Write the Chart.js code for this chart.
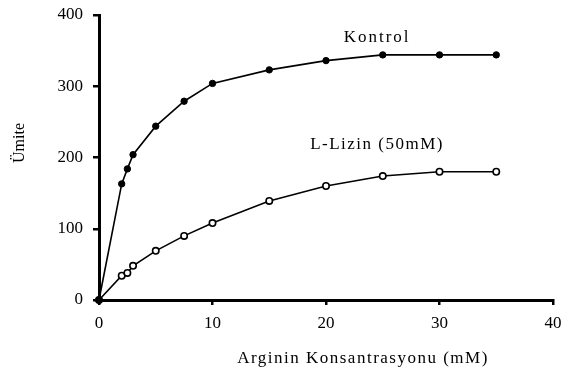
<!DOCTYPE html>
<html>
<head>
<meta charset="utf-8">
<script src="https://cdn.jsdelivr.net/npm/chart.js@4"></script>
<style>
  html, body { margin: 0; padding: 0; background: #fff; }
  canvas { display: block; }
</style>
</head>
<body>
<canvas id="c" width="564" height="381"></canvas>
<script>
const concentrations = [0, 2, 2.5, 3, 5, 7.5, 10, 15, 20, 25, 30, 35];
const kontrolValues = [0, 163, 184, 204, 244, 279, 304, 323, 336, 344, 344, 344];
const lizinValues = [0, 34, 38, 48, 69, 90, 108, 139, 160, 174, 180, 180];
const seriesNames = ['Kontrol', 'L-Lizin (50mM)'];
const xAxisTitle = 'Arginin Konsantrasyonu (mM)';
const yAxisTitle = 'Ümite';
const xTickValues = [0, 10, 20, 30, 40];
const yTickValues = [0, 100, 200, 300, 400];
// label anchor points in data units
const labelAnchors = [{x: 24.5, y: 368}, {x: 24.5, y: 218}];

const FONT = '"Liberation Serif", "Times New Roman", serif';

const toPoints = (xs, ys) => xs.map((x, i) => ({x, y: ys[i]}));

const textPlugin = {
  id: 'texts',
  afterDatasetsDraw(chart) {
    const ctx = chart.ctx;
    const xs = chart.scales.x, ys = chart.scales.y;
    ctx.save();
    ctx.fillStyle = '#000';
    ctx.font = '17px ' + FONT;
    ctx.textAlign = 'center';
    ctx.textBaseline = 'middle';
    try { ctx.letterSpacing = '2px'; } catch (e) {}
    ctx.fillText(seriesNames[0], xs.getPixelForValue(labelAnchors[0].x), ys.getPixelForValue(labelAnchors[0].y));
    try { ctx.letterSpacing = '1.5px'; } catch (e) {}
    ctx.fillText(seriesNames[1], xs.getPixelForValue(labelAnchors[1].x), ys.getPixelForValue(labelAnchors[1].y));
    // x axis title
    ctx.fillText(xAxisTitle, 363, 359);
    // y axis title
    try { ctx.letterSpacing = '0px'; } catch (e) {}
    ctx.translate(19.5, 143);
    ctx.rotate(-Math.PI / 2);
    ctx.font = '16px ' + FONT;
    ctx.fillText(yAxisTitle, 0, 0);
    ctx.restore();
  }
};

new Chart(document.getElementById('c'), {
  type: 'line',
  data: {
    datasets: [
      {
        label: seriesNames[0],
        data: toPoints(concentrations, kontrolValues),
        borderColor: '#000',
        borderWidth: 1.6,
        backgroundColor: '#000',
        pointBackgroundColor: '#000',
        pointBorderColor: '#000',
        pointRadius: 3.2,
        pointBorderWidth: 1,
        tension: 0,
        clip: false
      },
      {
        label: seriesNames[1],
        data: toPoints(concentrations, lizinValues),
        borderColor: '#000',
        borderWidth: 1.6,
        backgroundColor: '#fff',
        pointBackgroundColor: '#fff',
        pointBorderColor: '#000',
        pointRadius: 3.2,
        pointBorderWidth: 1.6,
        tension: 0,
        clip: false
      }
    ]
  },
  options: {
    responsive: false,
    animation: false,
    layout: { padding: { left: 0, top: 15, right: 11, bottom: 0 } },
    plugins: { legend: { display: false }, tooltip: { enabled: false } },
    scales: {
      x: {
        type: 'linear',
        min: 0, max: 40,
        afterBuildTicks(scale) { scale.ticks = xTickValues.map(v => ({value: v})); },
        afterFit(scale) { scale.height = 81; scale.paddingLeft = 0; scale.paddingRight = 0; },
        grid: { drawOnChartArea: false, drawTicks: true, tickLength: 5, color: '#000', lineWidth: 2.5 },
        border: { display: true, color: '#000', width: 3 },
        ticks: { color: '#000', font: { family: FONT, size: 17 }, padding: 8, maxRotation: 0 }
      },
      y: {
        type: 'linear',
        min: 0, max: 400,
        afterBuildTicks(scale) { scale.ticks = yTickValues.map(v => ({value: v})); },
        afterFit(scale) { scale.width = 99; scale.paddingTop = 0; scale.paddingBottom = 0; },
        grid: { drawOnChartArea: false, drawTicks: true, tickLength: 6, color: '#000', lineWidth: 2.5 },
        border: { display: true, color: '#000', width: 3 },
        ticks: { color: '#000', font: { family: FONT, size: 17 }, padding: 10 }
      }
    }
  },
  plugins: [textPlugin]
});
</script>
</body>
</html>
